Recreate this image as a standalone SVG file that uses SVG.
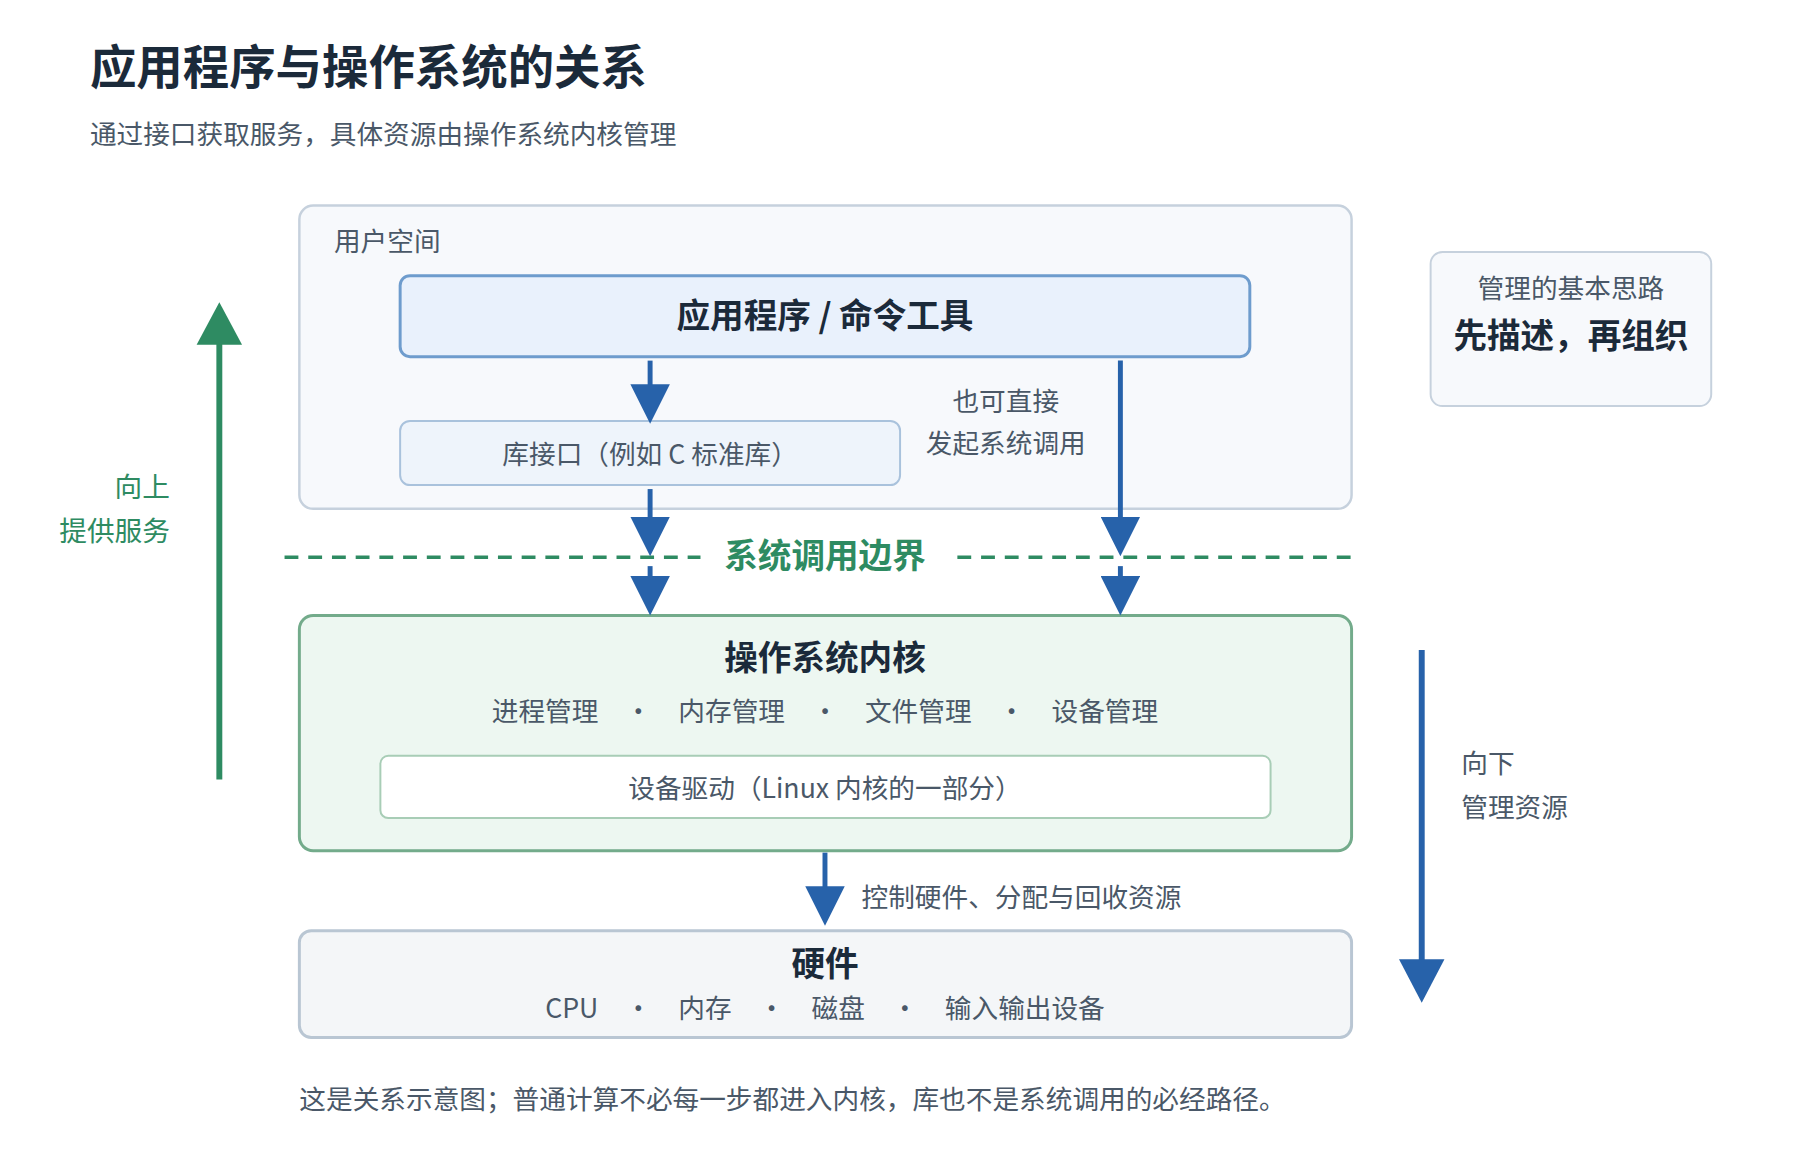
<svg xmlns="http://www.w3.org/2000/svg" width="1800" height="1160" viewBox="0 0 1800 1160">
<style>
text{font-family:"Noto Sans CJK SC","Noto Sans",sans-serif}
.t{fill:#4a5868;font-size:27px}
.b{fill:#1b2a3a;font-weight:bold}
.c{text-anchor:middle}
.bl{stroke:#2762aa;stroke-width:5;fill:none}
</style>
<defs>
<marker id="ah" viewBox="0 0 10 10" refX="2" refY="5" markerWidth="8" markerHeight="8" orient="auto"><path d="M0 0L10 5L0 10Z" fill="#2762aa"/></marker>
</defs>
<rect width="1800" height="1160" fill="#fff"/>
<g transform="scale(0.988)">
<text x="91" y="85" class="b" font-size="47">应用程序与操作系统的关系</text>
<text x="91" y="146" class="t" font-size="29">通过接口获取服务，具体资源由操作系统内核管理</text>
<g id="user"><rect x="303" y="208" width="1065" height="307" rx="14" fill="#f7f9fc" stroke="#c6d1dd" stroke-width="2.5"/>
<text x="338" y="254" class="t" font-size="26">用户空间</text></g>
<g id="app"><rect x="405" y="279" width="860" height="82" rx="10" fill="#e9f1fc" stroke="#6e9ccd" stroke-width="3"/>
<text x="835" y="332" class="b c" font-size="34">应用程序 / 命令工具</text></g>
<g id="lib"><rect x="405" y="426" width="506" height="65" rx="10" fill="#eef4fb" stroke="#a9c2dc" stroke-width="2"/>
<text x="658" y="470" class="t c" font-size="28">库接口（例如 C 标准库）</text></g>
<g id="note"><text x="1018" y="416" class="t c" font-size="26">也可直接</text><text x="1018" y="458" class="t c" font-size="26">发起系统调用</text></g>
<g id="boundary"><path d="M288 564H709M969 564H1372" stroke="#2e8b62" stroke-width="3.5" stroke-dasharray="14 10"/>
<text x="835" y="575" class="c" fill="#2e8b62" font-weight="bold" font-size="34">系统调用边界</text></g>
<g id="kernel"><rect x="303" y="623" width="1065" height="238" rx="14" fill="#edf7f1" stroke="#73ab8b" stroke-width="3"/>
<text x="835" y="678" class="b c" font-size="34">操作系统内核</text>
<text x="835" y="730" class="t c" font-size="28">进程管理　·　内存管理　·　文件管理　·　设备管理</text>
<rect x="385" y="765" width="901" height="63" rx="8" fill="#fff" stroke="#a8cdb6" stroke-width="2"/>
<text x="835" y="808" class="t c">设备驱动（Linux 内核的一部分）</text></g>
<g id="hw"><rect x="303" y="942" width="1065" height="108" rx="12" fill="#f4f6f8" stroke="#b9c6d3" stroke-width="3"/>
<text x="835" y="988" class="b c" font-size="34">硬件</text>
<text x="835" y="1030" class="t c" font-size="28">CPU　·　内存　·　磁盘　·　输入输出设备</text></g>
<g id="side"><rect x="1448" y="255" width="284" height="156" rx="12" fill="#f7f9fc" stroke="#c6d1dd" stroke-width="2"/>
<text x="1590" y="302" class="t c">管理的基本思路</text>
<text x="1590" y="352" class="b c" font-size="34">先描述，再组织</text></g>
<g id="connectors">
<path d="M658 365V397" class="bl" marker-end="url(#ah)"/>
<path d="M658 495V531" class="bl" marker-end="url(#ah)"/>
<path d="M658 573V591" class="bl" marker-end="url(#ah)"/>
<path d="M1134 365V531" class="bl" marker-end="url(#ah)"/>
<path d="M1134 573V591" class="bl" marker-end="url(#ah)"/>
<path d="M835 863V905" class="bl" marker-end="url(#ah)"/>
<text x="872" y="918" class="t" font-size="26">控制硬件、分配与回收资源</text>
<path d="M222 789V345" stroke="#2e8b62" stroke-width="6"/><path d="M199 349L222 306L245 349Z" fill="#2e8b62"/>
<path d="M1439 658V975" stroke="#2762aa" stroke-width="6"/><path d="M1416 971L1439 1015L1462 971Z" fill="#2762aa"/>
<text x="172" y="503" fill="#2e8b62" font-size="28" text-anchor="end">向上</text>
<text x="172" y="548" fill="#2e8b62" font-size="28" text-anchor="end">提供服务</text>
<text x="1479" y="782" class="t" font-size="28">向下</text>
<text x="1479" y="827" class="t" font-size="28">管理资源</text>
</g>
<text x="303" y="1122" class="t" font-size="27">这是关系示意图；普通计算不必每一步都进入内核，库也不是系统调用的必经路径。</text>
</g>
</svg>
